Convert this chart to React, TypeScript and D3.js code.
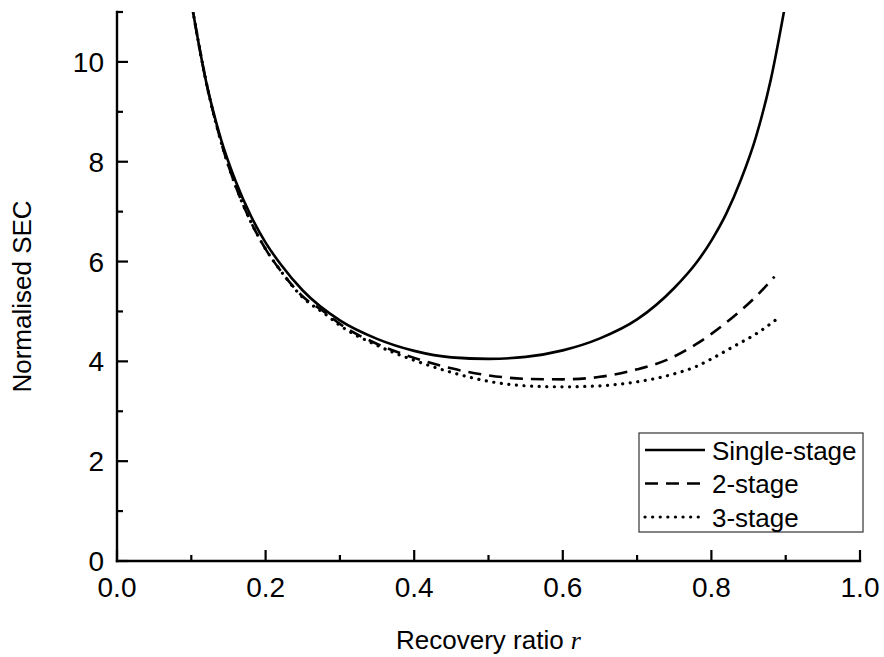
import React from "react";
import * as d3 from "d3";

const singleR = [0.10, 0.12, 0.14, 0.16, 0.18, 0.20, 0.22, 0.25, 0.30, 0.35, 0.40, 0.45, 0.50, 0.55, 0.60, 0.65, 0.70, 0.75, 0.78, 0.80, 0.82, 0.84, 0.86, 0.88, 0.90];
const singleV = [11.2, 9.6, 8.45, 7.6, 6.92, 6.38, 5.95, 5.42, 4.82, 4.45, 4.21, 4.08, 4.05, 4.09, 4.22, 4.46, 4.84, 5.47, 5.98, 6.42, 6.96, 7.65, 8.5, 9.65, 11.2];

const twoR = [0.10, 0.12, 0.14, 0.16, 0.18, 0.20, 0.22, 0.25, 0.28, 0.30, 0.35, 0.40, 0.45, 0.50, 0.55, 0.60, 0.65, 0.70, 0.74, 0.78, 0.80, 0.83, 0.86, 0.885];
const twoV = [11.2, 9.6, 8.4, 7.5, 6.8, 6.25, 5.82, 5.3, 4.98, 4.75, 4.35, 4.07, 3.86, 3.72, 3.65, 3.64, 3.69, 3.84, 4.03, 4.35, 4.55, 4.9, 5.3, 5.7];

const threeR = [0.10, 0.12, 0.14, 0.16, 0.18, 0.20, 0.22, 0.25, 0.28, 0.30, 0.35, 0.40, 0.45, 0.50, 0.55, 0.60, 0.65, 0.70, 0.75, 0.78, 0.80, 0.83, 0.86, 0.89];
const threeV = [11.2, 9.6, 8.4, 7.5, 6.8, 6.25, 5.82, 5.28, 4.95, 4.72, 4.32, 4.02, 3.78, 3.6, 3.51, 3.49, 3.51, 3.59, 3.75, 3.9, 4.05, 4.3, 4.55, 4.87];

const xMajor = [0, 0.2, 0.4, 0.6, 0.8, 1.0];
const xMinor = [0.1, 0.3, 0.5, 0.7, 0.9];
const yMajor = [0, 2, 4, 6, 8, 10];
const yMinor = [1, 3, 5, 7, 9, 11];
const legendLabels = ["Single-stage", "2-stage", "3-stage"];

const W = 884, H = 657;
const L = 117, R = 860, T = 12, B = 561;

export default function App() {
  const x = d3.scaleLinear().domain([0, 1]).range([L, R]);
  const y = d3.scaleLinear().domain([0, 11]).range([B, T]);
  const line = d3.line<[number, number]>().x(d => x(d[0])).y(d => y(d[1])).curve(d3.curveMonotoneX);
  const series = [
    { pts: singleR.map((r, i) => [r, singleV[i]] as [number, number]), dash: "none", w: 2.6, cap: "butt" },
    { pts: twoR.map((r, i) => [r, twoV[i]] as [number, number]), dash: "13,8", w: 2.6, cap: "butt" },
    { pts: threeR.map((r, i) => [r, threeV[i]] as [number, number]), dash: "0.1,7.5", w: 3.2, cap: "round" },
  ];
  const font = "'Liberation Sans', Arial, sans-serif";
  const legX = 639, legY = 433, legW = 224, legH = 99;
  return (
    <svg width={W} height={H} style={{ position: "absolute", left: 0, top: 0, background: "#fff" }} fontFamily={font}>
      <defs>
        <clipPath id="plot">
          <rect x={L} y={T} width={R - L + 20} height={B - T} />
        </clipPath>
      </defs>
      <g clipPath="url(#plot)">
        {series.map((s, i) => (
          <path key={i} d={line(s.pts) || ""} fill="none" stroke="#000" strokeWidth={s.w} strokeDasharray={s.dash} strokeLinecap={s.cap as any} />
        ))}
      </g>
      <line x1={L} y1={T} x2={L} y2={B} stroke="#000" strokeWidth={2.4} strokeLinecap="square" />
      <line x1={L} y1={B} x2={R} y2={B} stroke="#000" strokeWidth={2.4} strokeLinecap="square" />
      {xMajor.map(v => <line key={"xM" + v} x1={x(v)} x2={x(v)} y1={B} y2={B - 11} stroke="#000" strokeWidth={2.2} />)}
      {xMinor.map(v => <line key={"xm" + v} x1={x(v)} x2={x(v)} y1={B} y2={B - 6} stroke="#000" strokeWidth={2.2} />)}
      {yMajor.map(v => <line key={"yM" + v} x1={L} x2={L + 11} y1={y(v)} y2={y(v)} stroke="#000" strokeWidth={2.2} />)}
      {yMinor.map(v => <line key={"ym" + v} x1={L} x2={L + 6} y1={y(v)} y2={y(v)} stroke="#000" strokeWidth={2.2} />)}
      {xMajor.map(v => (
        <text key={"xl" + v} x={x(v)} y={B + 36} fontSize={28} textAnchor="middle">{v.toFixed(1)}</text>
      ))}
      {yMajor.map(v => (
        <text key={"yl" + v} x={L - 13} y={y(v) + 10} fontSize={28} textAnchor="end">{v}</text>
      ))}
      <text x={(L + R) / 2} y={649} fontSize={26} textAnchor="middle">
        Recovery ratio <tspan fontFamily="'Liberation Serif', 'Times New Roman', serif" fontStyle="italic">r</tspan>
      </text>
      <text transform={`translate(31, ${(T + B) / 2 + 10}) rotate(-90)`} fontSize={26} textAnchor="middle">Normalised SEC</text>
      <rect x={legX} y={legY} width={legW} height={legH} fill="#fff" stroke="#333" strokeWidth={1.2} />
      {legendLabels.map((lab, i) => {
        const cy = legY + 17 + i * 33.5;
        return (
          <g key={lab}>
            <line x1={legX + 6} x2={legX + 66} y1={cy} y2={cy} stroke="#000" strokeWidth={series[i].w} strokeDasharray={series[i].dash} strokeLinecap={series[i].cap as any} />
            <text x={legX + 73} y={cy + 9.5} fontSize={26}>{lab}</text>
          </g>
        );
      })}
    </svg>
  );
}
